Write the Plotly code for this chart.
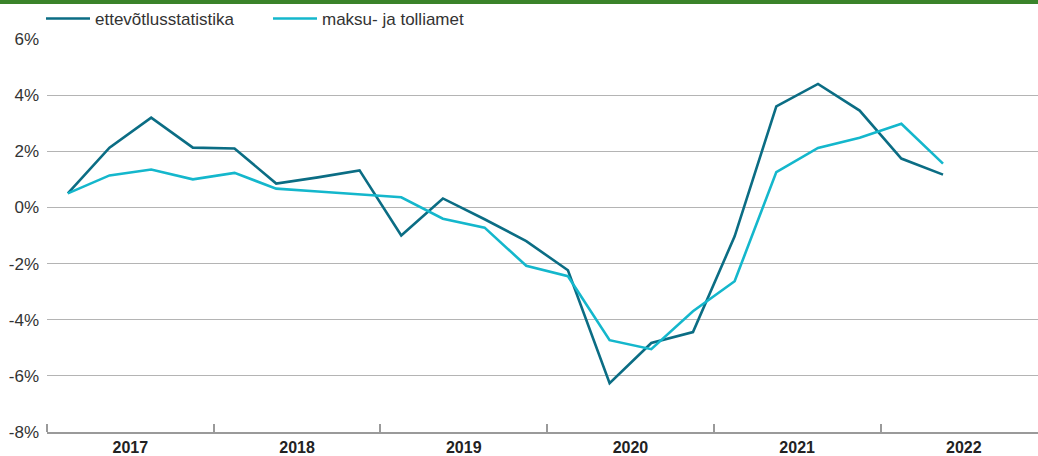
import plotly.graph_objects as go

years = ["2017", "2018", "2019", "2020", "2021", "2022"]
quarters_per_year = 4
n_points = 22  # 2017 Q1 ... 2022 Q2

ettevotlus = [0.50, 2.13, 3.20, 2.13, 2.10, 0.85, 1.07, 1.32,
              -1.00, 0.32, -0.42, -1.20, -2.24, -6.26, -4.83, -4.44,
              -1.03, 3.60, 4.40, 3.45, 1.74, 1.17]
maksu = [0.50, 1.14, 1.35, 1.00, 1.23, 0.67, 0.57, 0.46,
         0.36, -0.40, -0.72, -2.08, -2.45, -4.73, -5.05, -3.70,
         -2.63, 1.26, 2.12, 2.48, 2.98, 1.56]

y_ticks = [-8, -6, -4, -2, 0, 2, 4, 6]
y_labels = ["-8%", "-6%", "-4%", "-2%", "0%", "2%", "4%", "6%"]

x = [i + 0.5 for i in range(n_points)]
year_centers = [i * quarters_per_year + 2 for i in range(len(years))]

DARK = "#0b6d84"
LIGHT = "#14b7cc"
FONT = "Liberation Sans, Arial, sans-serif"

fig = go.Figure()
fig.add_trace(go.Scatter(x=x, y=ettevotlus, mode="lines", name="ettevõtlusstatistika",
                         line=dict(color=DARK, width=2.6)))
fig.add_trace(go.Scatter(x=x, y=maksu, mode="lines", name="maksu- ja tolliamet",
                         line=dict(color=LIGHT, width=2.6)))

W, H = 1038, 456
ml, mr, mt, mb = 47, 0, 39, 24
plot_w = W - ml - mr
plot_h = H - mt - mb
quarter_px = 166.7 / 4
x_max = plot_w / quarter_px

fig.update_layout(
    width=W, height=H,
    margin=dict(l=ml, r=mr, t=mt, b=mb, pad=0),
    paper_bgcolor="white", plot_bgcolor="white",
    font=dict(family=FONT, size=17, color="#333333"),
    showlegend=True,
    legend=dict(orientation="h", x=-6 / plot_w, xanchor="left", y=1 + 20 / plot_h, yanchor="middle",
                font=dict(size=17, color="#333333"), itemwidth=44, bgcolor="rgba(0,0,0,0)",
                entrywidth=168, entrywidthmode="pixels", traceorder="normal"),
    xaxis=dict(range=[0, x_max], tickmode="array", tickvals=year_centers, ticktext=years,
               ticks="", showgrid=False, zeroline=False, showline=True, linecolor="#9a9a9a",
               linewidth=1.5, tickfont=dict(size=16, color="#222222", family=FONT, weight="bold"),
               minor=dict(tickmode="linear", tick0=0, dtick=4, ticks="inside", ticklen=8,
                          tickcolor="#9a9a9a", tickwidth=1.5, showgrid=False),
               fixedrange=True),
    yaxis=dict(range=[-8, 6], tickmode="array", tickvals=y_ticks, ticktext=y_labels,
               showgrid=True, gridcolor="#b4b4b4", gridwidth=1.3, zeroline=False,
               showline=False, ticks="", ticklabelstandoff=7,
               tickfont=dict(size=17, color="#333333"), fixedrange=True),
    shapes=[dict(type="rect", xref="paper", yref="paper", x0=-ml / plot_w, x1=1.0,
                 y0=1 + (mt - 4) / plot_h, y1=1 + (mt + 1) / plot_h,
                 fillcolor="#3a832a", line=dict(width=0), layer="above")],
)

fig.write_html("out.html", config={"displayModeBar": False},
               post_script="document.body.style.margin='0';document.body.style.overflow='hidden';")
